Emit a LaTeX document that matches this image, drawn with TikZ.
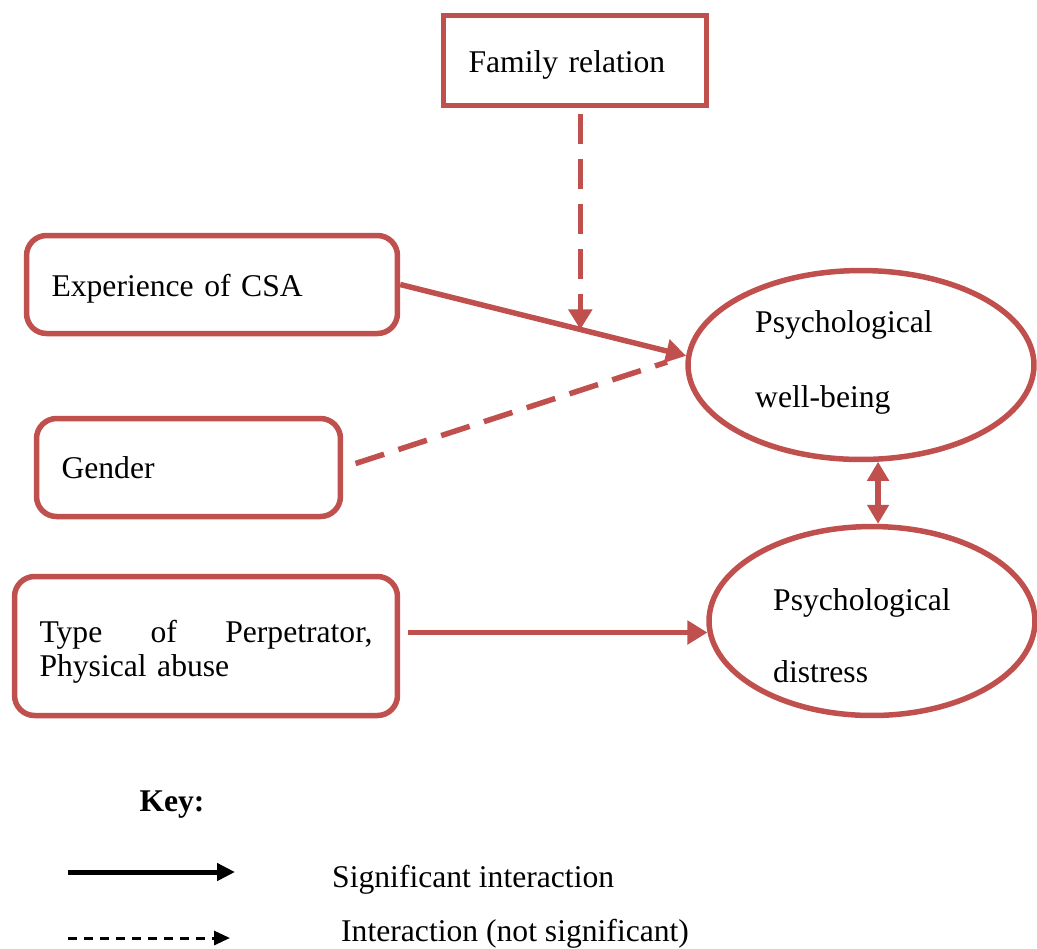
\documentclass[tikz,border=0pt]{standalone}
\usepackage{fontspec}
\setmainfont{Liberation Serif}
\usetikzlibrary{positioning,arrows.meta,shapes.geometric}
\definecolor{boxred}{RGB}{192,80,77}
\newcommand{\lowstrut}[1]{\rule{0pt}{#1}}

\begin{document}
\begin{tikzpicture}[x=0.02cm,y=-0.02cm,
  font=\fontsize{18}{20}\selectfont,
  sqbox/.style={draw=boxred,line width=0.11cm,align=left,inner xsep=0.5cm},
  rbox/.style={sqbox,rounded corners=0.4cm},
  blob/.style={draw=boxred,line width=0.11cm,ellipse,minimum height=3.78cm},
  sig/.style={draw=boxred,line width=0.11cm,-{Triangle[length=0.4cm,width=0.46cm]}},
  nonsig/.style={sig,dash pattern=on 0.6cm off 0.3cm},
  dbl/.style={sig,{Triangle[length=0.38cm,width=0.42cm]}-{Triangle[length=0.38cm,width=0.42cm]}},
  keysig/.style={line width=0.1cm,-{Triangle[length=0.36cm,width=0.34cm]}},
  keynon/.style={line width=0.06cm,dash pattern=on 0.18cm off 0.14cm,-{Triangle[length=0.32cm,width=0.28cm]}}]
\useasboundingbox (0,0) rectangle (1037,948);

% Boxes
\node[sqbox,text width=4.26cm,minimum height=1.8cm] (family) at (575,60.5) {\lowstrut{0.63cm}Family relation};
\node[rbox,text width=6.42cm,minimum height=1.96cm] (csa) at (212,284.5) {\lowstrut{0.63cm}Experience of CSA};
\node[rbox,text width=5.08cm,minimum height=1.96cm] (gender) at (188.5,467.5) {Gender};
\node[rbox,text width=6.66cm,minimum height=2.78cm,font=\fontsize{18}{19}\selectfont] (perp) at (206,646)
  {\lowstrut{0.67cm}Type\hfill of\hfill Perpetrator,\\Physical abuse};

% Outcomes
\node[blob,minimum width=6.92cm] (wellbeing) at (861,365) {};
\node[blob,minimum width=6.52cm] (distress) at (872,621) {};
\node[anchor=west,align=left] (wbtext) at (749,362) {Psychological\\[0.8cm]well-being};
\node[anchor=west,align=left] (dstext) at (767,636) {Psychological\\[0.74cm]distress};

% Arrows
\draw[sig] (csa.east) -- (wellbeing.177);
\path (csa.east) -- (wellbeing.177) coordinate[pos=0.63] (hit);
\draw[nonsig,shorten <=0.12cm] (family.south -| hit) -- (hit);
\draw[nonsig,shorten <=0.26cm,shorten >=0.4cm,-] (gender.east) -- (wellbeing.177);
\draw[dbl] (wellbeing.-80) -- (wellbeing.-80 |- distress.north);
\draw[sig,shorten <=0.16cm] (perp.east |- distress.184) -- (distress.184);

% Key
\node[font=\fontsize{18}{20}\selectfont\bfseries] (key) at (172,805) {Key:};
\coordinate (ks1) at (68,872);
\coordinate (ks2) at (235,872);
\coordinate (kn1) at (68,938);
\coordinate (kn2) at (230,938);
\draw[keysig] (ks1) -- (ks2);
\draw[keynon] (kn1) -- (kn2);
\node[anchor=west] (sigtxt) at (326,880) {Significant interaction};
\node[anchor=west] (nontxt) at (335,934) {Interaction (not significant)};
\end{tikzpicture}
\end{document}
